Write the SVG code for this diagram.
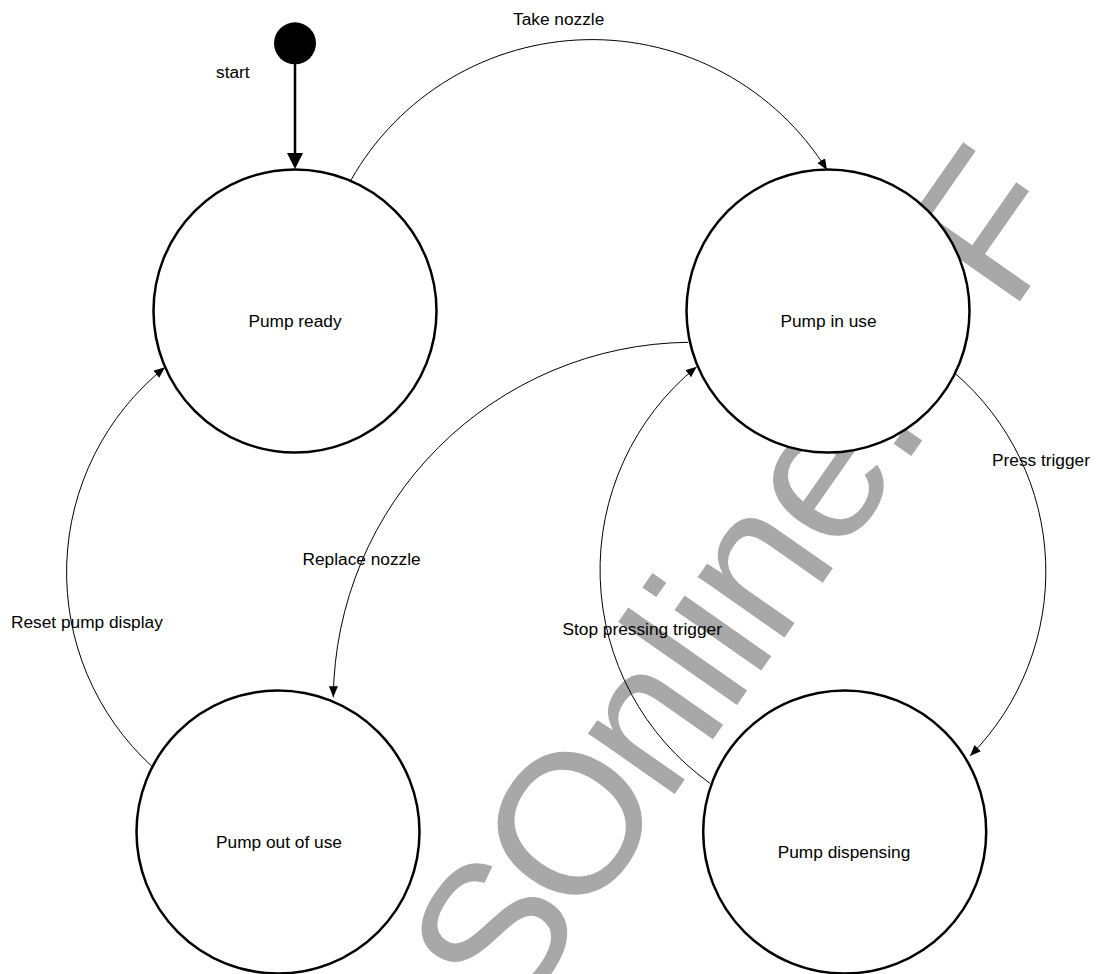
<svg xmlns="http://www.w3.org/2000/svg" width="1098" height="974" viewBox="0 0 1098 974">
<style>
.state{fill:#fff;stroke:#000;stroke-width:2.5}
.conn{fill:none;stroke:#000;stroke-width:1}
.lbl{font-family:"Liberation Sans",Arial,sans-serif;font-size:17.3px;fill:#000}
.c{text-anchor:middle}
.wm{font-family:"Liberation Sans",Arial,sans-serif;font-size:200px;fill:#a8a8a8}
</style>
<defs>
<marker id="ah" markerWidth="12" markerHeight="10" refX="11" refY="4.5" orient="auto" markerUnits="userSpaceOnUse">
<path d="M0,0 L11,4.5 L0,9 z" fill="#000"/>
</marker>
</defs>
<rect width="1098" height="974" fill="#fff"/>
<g id="watermark">
<text class="wm" transform="translate(520,1015) rotate(-55)" x="-15 108 256 365 407 447 556 664 855" y="0">SOnline.F</text>
</g>
<g id="connectors">
<line x1="295" y1="64" x2="295" y2="155" stroke="#000" stroke-width="2.5"/>
<polygon points="287,153 303,153 295,169" fill="#000"/>
<path class="conn" d="M351,180 A277,277 0 0 1 827,170" marker-end="url(#ah)"/>
<path class="conn" d="M955,373.3 A262,262 0 0 1 970,756" marker-end="url(#ah)"/>
<path class="conn" d="M710,783.3 A262,262 0 0 1 696.7,366.7" marker-end="url(#ah)"/>
<path class="conn" d="M688.3,342.3 A359,359 0 0 0 333.3,697.3" marker-end="url(#ah)"/>
<path class="conn" d="M152.3,766.7 A263,263 0 0 1 165,367.3" marker-end="url(#ah)"/>
<text class="lbl" x="216" y="78">start</text>
<text class="lbl" x="513" y="25">Take nozzle</text>
<text class="lbl" x="992" y="466">Press trigger</text>
<text class="lbl" x="302.5" y="564.5">Replace nozzle</text>
<text class="lbl" x="562.5" y="635.3">Stop pressing trigger</text>
<text class="lbl" x="11" y="628.3">Reset pump display</text>
</g>
<g id="initial">
<circle cx="295" cy="43.3" r="21" fill="#000"/>
</g>
<g id="pump-ready">
<circle class="state" cx="295" cy="311" r="141.5"/>
<text class="lbl c" x="295" y="326.5">Pump ready</text>
</g>
<g id="pump-in-use">
<circle class="state" cx="828" cy="311" r="141.5"/>
<text class="lbl c" x="828.5" y="327">Pump in use</text>
</g>
<g id="pump-out-of-use">
<circle class="state" cx="278" cy="832" r="141.5"/>
<text class="lbl c" x="279" y="847.5">Pump out of use</text>
</g>
<g id="pump-dispensing">
<circle class="state" cx="844.7" cy="832" r="141.5"/>
<text class="lbl c" x="844" y="858">Pump dispensing</text>
</g>
</svg>
